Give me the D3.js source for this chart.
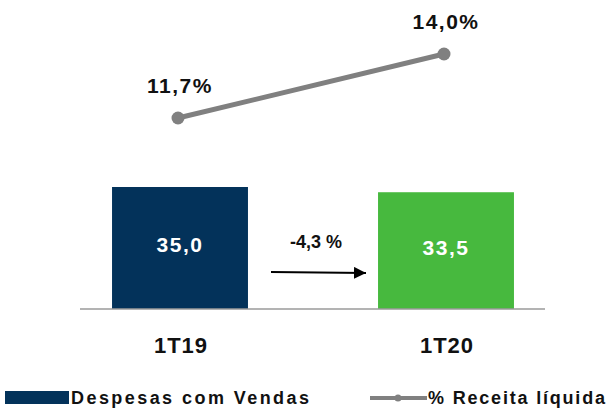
<!DOCTYPE html>
<html>
<head>
<meta charset="utf-8">
<script src="https://cdn.jsdelivr.net/npm/d3@7"></script>
<style>
body{margin:0;background:#fff;}
text{font-family:"Liberation Sans",Arial,sans-serif;font-weight:bold;}
</style>
</head>
<body>
<div id="chart"></div>
<script>
// dados
var periods = ["1T19", "1T20"];
var despesas = [35.0, 33.5];
var despLabels = ["35,0", "33,5"];
var receitaPct = [11.7, 14.0];
var receitaLabels = ["11,7%", "14,0%"];
var barColors = ["#03325a", "#47b93e"];
var variacao = "-4,3 %";

var W = 611, H = 414;

var svg = d3.select("#chart").append("svg")
  .attr("width", W).attr("height", H);

var x = d3.scaleBand().domain(periods).range([47, 579])
  .paddingInner(0.489).paddingOuter(0.2445);

var yBar = d3.scaleLinear().domain([0, 35]).range([309, 187]);
var yLine = d3.scaleLinear().domain([9, 15]).range([193.1, 26.2]);

// barras
svg.selectAll("rect.bar").data(despesas).enter()
  .append("rect").attr("class", "bar")
  .attr("x", (d, i) => x(periods[i]))
  .attr("width", x.bandwidth())
  .attr("y", d => yBar(d))
  .attr("height", d => yBar(0) - yBar(d))
  .attr("fill", (d, i) => barColors[i]);

svg.selectAll("text.barval").data(despesas).enter()
  .append("text").attr("class", "barval")
  .attr("x", (d, i) => x(periods[i]) + x.bandwidth() / 2)
  .attr("y", d => (yBar(d) + yBar(0)) / 2 + 4)
  .attr("text-anchor", "middle")
  .attr("fill", "#fff")
  .style("font-size", "21px")
  .style("letter-spacing", "1.5px")
  .text((d, i) => despLabels[i]);

// eixo
svg.append("line")
  .attr("x1", 80).attr("x2", 545)
  .attr("y1", yBar(0)).attr("y2", yBar(0))
  .attr("stroke", "#9a9a9a").attr("stroke-width", 1.5);

svg.append("g").selectAll("text").data(periods).enter()
  .append("text")
  .attr("x", d => x(d) + x.bandwidth() / 2 + 1)
  .attr("y", 353)
  .attr("text-anchor", "middle")
  .attr("fill", "#111")
  .style("font-size", "22px")
  .style("letter-spacing", "1px")
  .text(d => d);

// linha % receita
var line = d3.line()
  .x((d, i) => x(periods[i]) + x.bandwidth() / 2 - 2)
  .y(d => yLine(d));

svg.append("path").datum(receitaPct)
  .attr("d", line)
  .attr("fill", "none")
  .attr("stroke", "#808080").attr("stroke-width", 5);

svg.selectAll("circle.pt").data(receitaPct).enter()
  .append("circle").attr("class", "pt")
  .attr("cx", (d, i) => x(periods[i]) + x.bandwidth() / 2 - 2)
  .attr("cy", d => yLine(d))
  .attr("r", 6.5)
  .attr("fill", "#808080");

svg.selectAll("text.pct").data(receitaPct).enter()
  .append("text").attr("class", "pct")
  .attr("x", (d, i) => x(periods[i]) + x.bandwidth() / 2)
  .attr("y", d => yLine(d) - 25)
  .attr("text-anchor", "middle")
  .attr("fill", "#111")
  .style("font-size", "21px")
  .style("letter-spacing", "1.5px")
  .text((d, i) => receitaLabels[i]);

// variação
svg.append("defs").append("marker")
  .attr("id", "arrow").attr("viewBox", "0 0 10 10")
  .attr("refX", 10).attr("refY", 5)
  .attr("markerWidth", 6).attr("markerHeight", 6)
  .attr("markerUnits", "strokeWidth")
  .attr("orient", "auto")
  .append("path").attr("d", "M0,0L10,5L0,10Z").attr("fill", "#000");

svg.append("line")
  .attr("x1", 271).attr("x2", 366)
  .attr("y1", 272).attr("y2", 273)
  .attr("stroke", "#000").attr("stroke-width", 2)
  .attr("marker-end", "url(#arrow)");

svg.append("text")
  .attr("x", 316).attr("y", 248)
  .attr("text-anchor", "middle")
  .attr("fill", "#111")
  .style("font-size", "18px")
  .text(variacao);

// legenda
var leg = svg.append("g");
leg.append("rect").attr("x", 5).attr("y", 391).attr("width", 64).attr("height", 13)
  .attr("fill", barColors[0]);
leg.append("text").attr("x", 71).attr("y", 404)
  .attr("fill", "#111").style("font-size", "18px")
  .attr("textLength", 238).attr("lengthAdjust", "spacing")
  .text("Despesas com Vendas");
leg.append("line").attr("x1", 370).attr("x2", 427).attr("y1", 398).attr("y2", 398)
  .attr("stroke", "#808080").attr("stroke-width", 4);
leg.append("circle").attr("cx", 398).attr("cy", 398).attr("r", 3.5).attr("fill", "#808080");
leg.append("text").attr("x", 428).attr("y", 404)
  .attr("fill", "#111").style("font-size", "18px")
  .attr("textLength", 177).attr("lengthAdjust", "spacing")
  .text("% Receita líquida");
</script>
</body>
</html>
